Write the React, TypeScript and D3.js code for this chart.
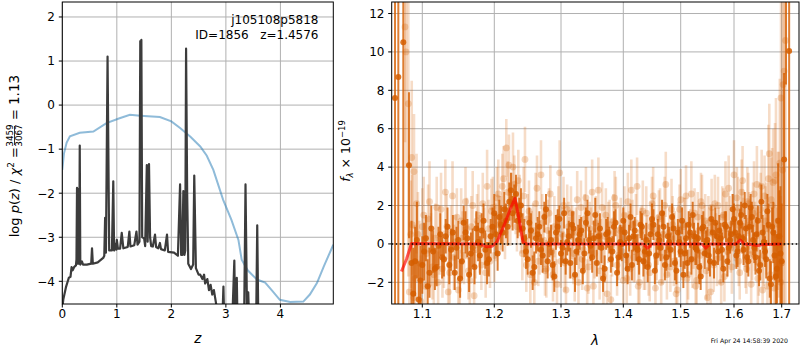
import React from 'react';
import * as d3 from 'd3';

// ---------- left panel data ----------
const Z_TICKS = [0, 1, 2, 3, 4];
const LOGP_TICKS = [-4, -3, -2, -1, 0, 1, 2];

const PRIOR_Z = [0, 0.03, 0.08, 0.14, 0.32, 0.57, 0.81, 1.05, 1.24, 1.43, 1.79, 2.0, 2.16, 2.35, 2.53, 2.65, 2.77, 2.95, 3.1, 3.23, 3.29, 3.4, 3.57, 3.72, 3.84, 3.99, 4.18, 4.42, 4.54, 4.67, 4.8, 4.97];
const PRIOR_LOG = [-1.47, -1.1, -0.85, -0.71, -0.63, -0.6, -0.41, -0.3, -0.22, -0.24, -0.27, -0.37, -0.52, -0.72, -0.94, -1.15, -1.47, -2.15, -2.6, -3.06, -3.51, -3.75, -3.96, -4.03, -4.2, -4.42, -4.47, -4.46, -4.3, -4.04, -3.65, -3.17];

const PZ_Z = [0.0, 0.02, 0.07, 0.12, 0.15, 0.17, 0.19, 0.22, 0.25, 0.26, 0.27, 0.275, 0.285, 0.295, 0.305, 0.31, 0.32, 0.33, 0.36, 0.38, 0.45, 0.53, 0.545, 0.56, 0.65, 0.75, 0.77, 0.785, 0.80, 0.83, 0.86, 0.89, 0.91, 0.935, 0.95, 0.97, 0.99, 1.0, 1.02, 1.06, 1.09, 1.12, 1.2, 1.23, 1.25, 1.32, 1.36, 1.38, 1.415, 1.43, 1.44, 1.45, 1.465, 1.5, 1.52, 1.55, 1.565, 1.59, 1.61, 1.63, 1.66, 1.70, 1.72, 1.76, 1.79, 1.81, 1.88, 1.92, 1.94, 2.05, 2.12, 2.16, 2.18, 2.2, 2.22, 2.24, 2.255, 2.27, 2.29, 2.31, 2.36, 2.40, 2.42, 2.45, 2.5, 2.53, 2.57, 2.6, 2.62, 2.66, 2.69, 2.72, 2.75, 2.78, 2.82, 2.86, 2.92, 2.955, 2.98, 3.1, 3.155, 3.175, 3.2, 3.22, 3.33, 3.36, 3.39, 3.41, 3.44, 3.55, 3.575, 3.60, 3.7, 4.97];
const PZ_LOG = [-4.6, -4.4, -4.12, -3.92, -3.9, -3.68, -3.75, -3.67, -3.64, -3.5, -1.88, -3.6, -1.9, -3.6, -2.3, -3.6, -0.92, -3.62, -3.55, -3.62, -3.62, -3.6, -3.25, -3.6, -3.57, -3.47, -3.42, -2.56, -3.35, 1.1, -3.3, -3.3, -3.3, -1.73, -3.3, -3.15, -3.28, -3.06, -3.26, -3.26, -2.9, -3.25, -3.22, -2.87, -3.21, -3.18, -2.87, -3.17, -3.1, 1.45, -1.0, 1.48, -3.0, -3.02, -3.2, -1.36, -3.1, -1.34, -3.0, -3.2, -3.21, -2.94, -3.22, -3.25, -3.13, -3.27, -3.3, -2.94, -3.33, -3.35, -3.42, -1.8, -3.4, -3.4, -1.95, -3.4, -3.3, 1.28, -2.0, -3.6, -3.72, -3.62, -1.6, -3.7, -3.85, -3.85, -3.95, -3.85, -4.05, -3.95, -4.2, -4.08, -4.3, -4.2, -4.5, -4.8, -5.5, -4.12, -5.5, -5.5, -3.53, -5.3, -3.92, -5.5, -5.5, -1.8, -5.0, -4.25, -5.5, -5.5, -2.73, -5.5, -6, -6];

// ---------- right panel data ----------
const LAM_TICKS = [1.1, 1.2, 1.3, 1.4, 1.5, 1.6, 1.7];
const FLUX_TICKS = [-2, 0, 2, 4, 6, 8, 10, 12];

// binned spectrum, first set
const DARK_LAM = [1.085, 1.09, 1.095, 1.1, 1.105, 1.11, 1.115, 1.12, 1.125, 1.13, 1.135, 1.14, 1.145, 1.15, 1.155, 1.16, 1.165, 1.17, 1.175, 1.18, 1.185, 1.19, 1.195, 1.2, 1.205, 1.21, 1.215, 1.22, 1.225, 1.23, 1.235, 1.24, 1.245, 1.25, 1.255, 1.26, 1.265, 1.27, 1.275, 1.28, 1.285, 1.29, 1.295, 1.3, 1.305, 1.31, 1.315, 1.32, 1.325, 1.33, 1.335, 1.34, 1.345, 1.35, 1.355, 1.36, 1.365, 1.37, 1.375, 1.38, 1.385, 1.39, 1.395, 1.4, 1.405, 1.41, 1.415, 1.42, 1.425, 1.43, 1.435, 1.44, 1.445, 1.45, 1.455, 1.46, 1.465, 1.47, 1.475, 1.48, 1.485, 1.49, 1.495, 1.5, 1.505, 1.51, 1.515, 1.52, 1.525, 1.53, 1.535, 1.54, 1.545, 1.55, 1.555, 1.56, 1.565, 1.57, 1.575, 1.58, 1.585, 1.59, 1.595, 1.6, 1.605, 1.61, 1.615, 1.62, 1.625, 1.63, 1.635, 1.64, 1.645, 1.65, 1.655, 1.66, 1.665, 1.67, 1.675, 1.68, 1.685, 1.69, 1.695, 1.7];
const DARK_FLUX = [-1.0, -0.9, -2.9, -1.1, 0.3, -1.5, -0.4, -1.2, 0.5, -0.8, 0.9, -0.3, -1.5, 0.2, -0.9, 0.6, -1.6, -0.2, 0.8, -0.6, 1.2, -1.0, 0.4, 1.6, -0.5, 1.0, 1.8, 0.9, 2.8, 2.1, 1.2, 2.0, 0.3, -0.8, 0.7, -1.2, 0.5, -0.3, 1.4, -0.9, 0.2, -1.7, 0.9, -0.5, 1.6, 0.1, -1.0, 0.8, -0.4, 0.5, -1.4, 1.1, 0.2, -0.7, 1.5, 0.4, -0.2, -1.3, 0.6, -0.8, 0.9, -1.5, 0.1, 1.2, -0.6, 0.3, -1.1, 0.7, -0.3, 1.0, -0.9, 0.2, -0.5, 1.3, -1.4, 0.5, -0.2, 0.9, -0.7, 0.1, 1.4, -1.0, 0.6, -0.4, -1.6, 0.3, 1.0, -0.8, 0.4, -0.3, -1.2, 0.8, -0.5, 0.2, -0.9, 0.6, 1.1, -0.4, 0.3, -1.3, 0.9, -0.2, 0.5, 1.3, -0.6, 0.4, 1.5, -0.3, 0.8, -0.9, 1.9, 0.2, -0.7, 1.2, -1.1, 0.6, -0.4, 1.7, -1.8, 0.9, -0.6, -1.3, 0.4, -0.9];
const DARK_ERR = [2.2, 1.8, 2.0, 1.5, 1.2, 1.3, 1.1, 1.0, 1.1, 0.9, 1.0, 1.1, 0.9, 1.0, 0.9, 1.1, 0.9, 1.0, 0.9, 1.0, 0.9, 1.1, 0.9, 1.0, 0.9, 1.0, 0.9, 1.0, 0.9, 1.0, 0.9, 0.9, 1.0, 0.8, 0.9, 0.8, 0.9, 0.8, 0.8, 0.9, 0.8, 0.8, 0.9, 0.7, 0.8, 0.7, 0.8, 0.9, 0.7, 0.8, 0.7, 0.8, 0.7, 0.8, 0.9, 0.7, 0.8, 0.7, 0.8, 0.7, 0.8, 0.7, 0.9, 0.7, 0.8, 0.7, 0.8, 0.7, 0.8, 0.7, 0.8, 0.9, 0.7, 0.8, 0.7, 0.8, 0.7, 0.8, 0.7, 0.8, 0.7, 0.9, 0.7, 0.8, 0.7, 0.8, 0.7, 0.8, 0.7, 0.8, 0.9, 0.7, 0.8, 0.7, 0.8, 0.7, 0.8, 0.7, 0.8, 0.7, 0.8, 0.9, 0.7, 0.8, 0.7, 0.8, 0.7, 0.8, 0.7, 0.8, 0.7, 0.8, 0.9, 0.8, 0.8, 0.9, 0.8, 0.9, 1.0, 1.0, 1.3, 1.8, 2.4, 3.0];

// binned spectrum, second set
const DARK2_LAM = [1.0875, 1.0925, 1.0975, 1.1025, 1.1075, 1.1125, 1.1175, 1.1225, 1.1275, 1.1325, 1.1375, 1.1425, 1.1475, 1.1525, 1.1575, 1.1625, 1.1675, 1.1725, 1.1775, 1.1825, 1.1875, 1.1925, 1.1975, 1.2025, 1.2075, 1.2125, 1.2175, 1.2225, 1.2275, 1.2325, 1.2375, 1.2425, 1.2475, 1.2525, 1.2575, 1.2625, 1.2675, 1.2725, 1.2775, 1.2825, 1.2875, 1.2925, 1.2975, 1.3025, 1.3075, 1.3125, 1.3175, 1.3225, 1.3275, 1.3325, 1.3375, 1.3425, 1.3475, 1.3525, 1.3575, 1.3625, 1.3675, 1.3725, 1.3775, 1.3825, 1.3875, 1.3925, 1.3975, 1.4025, 1.4075, 1.4125, 1.4175, 1.4225, 1.4275, 1.4325, 1.4375, 1.4425, 1.4475, 1.4525, 1.4575, 1.4625, 1.4675, 1.4725, 1.4775, 1.4825, 1.4875, 1.4925, 1.4975, 1.5025, 1.5075, 1.5125, 1.5175, 1.5225, 1.5275, 1.5325, 1.5375, 1.5425, 1.5475, 1.5525, 1.5575, 1.5625, 1.5675, 1.5725, 1.5775, 1.5825, 1.5875, 1.5925, 1.5975, 1.6025, 1.6075, 1.6125, 1.6175, 1.6225, 1.6275, 1.6325, 1.6375, 1.6425, 1.6475, 1.6525, 1.6575, 1.6625, 1.6675, 1.6725, 1.6775, 1.6825, 1.6875, 1.6925, 1.6975];
const DARK2_FLUX = [-2.6, 0.2, -1.9, -0.4, -2.2, 0.8, -1.3, -0.1, -0.7, 0.4, -1.1, 0.6, -0.2, -1.8, 1.1, 0.3, -0.5, -1.2, 0.1, 0.7, -0.3, -0.8, 0.9, 0.5, 1.4, 0.6, 1.2, 2.2, 1.6, 2.6, 1.5, 0.8, -0.4, 1.1, -1.5, 0.3, 0.9, -0.6, 1.8, 0.0, -1.1, 0.6, 1.3, -0.2, -0.9, 0.4, 1.0, -1.6, 0.2, 0.7, -0.5, 1.6, -0.1, 0.3, -1.0, 0.8, -1.8, 0.5, 0.2, -0.4, 1.1, -0.7, 0.0, 0.6, -1.3, 1.4, 0.4, -0.2, -0.8, 0.9, -0.4, -1.2, 0.5, 1.0, -0.6, 0.2, 1.6, -1.1, 0.4, -0.3, 0.8, -1.4, 0.1, 1.2, -0.5, -1.0, 0.6, 1.5, -0.2, 0.3, -1.7, 0.9, 0.0, -0.6, 1.3, -1.0, 0.4, 0.7, -0.3, 1.0, -0.9, 0.2, 1.8, 0.6, -0.4, 1.1, 0.3, 2.0, -0.7, 0.9, 1.4, -0.2, 0.5, -1.4, 2.2, 0.1, -0.8, 1.0, -2.1, 0.6, -1.7, 1.2, -0.5];
const DARK2_ERR = [2.4, 2.0, 1.8, 1.5, 1.4, 1.2, 1.1, 1.0, 1.1, 0.9, 1.0, 0.9, 1.1, 1.0, 0.9, 1.0, 1.1, 0.9, 1.0, 0.9, 1.0, 0.9, 1.0, 1.1, 0.9, 1.0, 0.9, 1.0, 0.9, 1.0, 0.9, 0.8, 0.9, 0.8, 0.9, 0.8, 0.8, 0.9, 0.8, 0.7, 0.8, 0.9, 0.7, 0.8, 0.7, 0.8, 0.7, 0.9, 0.8, 0.7, 0.8, 0.7, 0.8, 0.9, 0.7, 0.8, 0.7, 0.8, 0.7, 0.8, 0.7, 0.8, 0.9, 0.7, 0.8, 0.7, 0.8, 0.7, 0.8, 0.7, 0.9, 0.8, 0.7, 0.8, 0.7, 0.8, 0.7, 0.8, 0.7, 0.9, 0.8, 0.7, 0.8, 0.7, 0.8, 0.7, 0.8, 0.7, 0.9, 0.8, 0.7, 0.8, 0.7, 0.8, 0.7, 0.8, 0.7, 0.8, 0.9, 0.7, 0.8, 0.7, 0.8, 0.7, 0.8, 0.7, 0.8, 0.7, 0.8, 0.9, 0.8, 0.8, 0.9, 0.8, 0.9, 0.9, 1.0, 1.1, 1.2, 1.6, 2.2, 3.0, 3.5];

// unbinned spectrum, first set
const LIGHT_LAM = [1.082, 1.086, 1.09, 1.094, 1.098, 1.102, 1.106, 1.11, 1.114, 1.118, 1.122, 1.126, 1.13, 1.134, 1.138, 1.142, 1.146, 1.15, 1.154, 1.158, 1.162, 1.166, 1.17, 1.174, 1.178, 1.182, 1.186, 1.19, 1.194, 1.198, 1.202, 1.206, 1.21, 1.214, 1.218, 1.222, 1.226, 1.23, 1.234, 1.238, 1.242, 1.246, 1.25, 1.254, 1.258, 1.262, 1.266, 1.27, 1.274, 1.278, 1.282, 1.286, 1.29, 1.294, 1.298, 1.302, 1.306, 1.31, 1.314, 1.318, 1.322, 1.326, 1.33, 1.334, 1.338, 1.342, 1.346, 1.35, 1.354, 1.358, 1.362, 1.366, 1.37, 1.374, 1.378, 1.382, 1.386, 1.39, 1.394, 1.398, 1.402, 1.406, 1.41, 1.414, 1.418, 1.422, 1.426, 1.43, 1.434, 1.438, 1.442, 1.446, 1.45, 1.454, 1.458, 1.462, 1.466, 1.47, 1.474, 1.478, 1.482, 1.486, 1.49, 1.494, 1.498, 1.502, 1.506, 1.51, 1.514, 1.518, 1.522, 1.526, 1.53, 1.534, 1.538, 1.542, 1.546, 1.55, 1.554, 1.558, 1.562, 1.566, 1.57, 1.574, 1.578, 1.582, 1.586, 1.59, 1.594, 1.598, 1.602, 1.606, 1.61, 1.614, 1.618, 1.622, 1.626, 1.63, 1.634, 1.638, 1.642, 1.646, 1.65, 1.654, 1.658, 1.662, 1.666, 1.67, 1.674, 1.678, 1.682, 1.686, 1.69, 1.694, 1.698, 1.702];
const LIGHT_FLUX = [-2.5, 1.0, -1.8, 0.5, -3.0, 1.5, -0.5, 2.2, -1.2, 0.3, -2.0, 1.8, -0.8, 0.9, -1.5, 2.5, 0.1, -2.4, 1.2, -0.6, 0.8, -1.9, 2.0, -0.3, 1.5, -1.1, 0.4, 3.0, -0.9, 1.9, 0.6, 2.6, 1.1, 3.4, 5.0, 4.1, 2.3, 3.1, 0.9, 2.0, -0.5, 4.4, 1.3, -1.6, 0.7, 2.1, -0.9, 3.6, 0.2, -1.3, 1.6, -0.4, 0.9, -2.1, 3.7, 0.5, -1.0, 1.8, -0.2, 0.6, -1.7, 2.3, 0.1, -0.8, 1.3, -2.3, 0.8, 2.7, -0.5, 0.3, -1.4, 1.9, 0.4, -2.6, 1.0, -0.2, 2.4, -1.1, 0.7, -0.4, 1.5, -1.8, 0.3, 2.8, -0.7, 1.1, -2.2, 0.6, 1.7, -1.0, 0.2, -1.5, 2.1, 0.8, -0.6, 1.4, -2.0, 0.5, 3.1, -0.3, -1.2, 1.0, 0.3, -2.4, 1.8, -0.5, 0.9, 2.5, -1.6, 0.4, -0.8, 1.6, -1.9, 0.7, 2.2, -0.4, 1.2, -2.8, 0.6, 1.9, -1.1, 0.3, 2.0, -0.7, 1.4, -1.7, 0.8, 2.9, -0.2, 1.1, 0.5, 2.4, -0.9, 1.7, 3.3, 0.2, -1.3, 2.1, 1.0, -0.5, 2.6, 0.4, -1.8, 1.5, 3.0, -0.6, 1.2, -2.2, 4.7, 2.3, 3.2, 3.3, -1.5, 1.0, -2.0, 3.85];
const LIGHT_ERR = [3.0, 2.6, 2.8, 2.2, 2.4, 2.0, 1.9, 2.1, 1.7, 1.8, 1.6, 1.9, 1.5, 1.7, 1.6, 1.8, 1.4, 1.6, 1.7, 1.5, 1.6, 1.4, 1.8, 1.5, 1.6, 1.3, 1.5, 1.9, 1.4, 1.6, 1.5, 1.8, 1.4, 1.7, 1.5, 1.6, 1.4, 1.5, 1.3, 1.6, 1.4, 1.7, 1.3, 1.5, 1.4, 1.6, 1.3, 1.8, 1.4, 1.5, 1.3, 1.4, 1.6, 1.3, 1.7, 1.4, 1.5, 1.3, 1.6, 1.4, 1.3, 1.5, 1.4, 1.6, 1.3, 1.5, 1.4, 1.7, 1.3, 1.4, 1.5, 1.3, 1.6, 1.4, 1.3, 1.5, 1.4, 1.6, 1.3, 1.4, 1.5, 1.3, 1.4, 1.6, 1.3, 1.5, 1.4, 1.3, 1.6, 1.4, 1.3, 1.5, 1.4, 1.6, 1.3, 1.4, 1.5, 1.3, 1.7, 1.4, 1.3, 1.5, 1.4, 1.6, 1.3, 1.4, 1.5, 1.6, 1.3, 1.4, 1.5, 1.3, 1.6, 1.4, 1.5, 1.3, 1.4, 1.6, 1.3, 1.5, 1.4, 1.3, 1.5, 1.4, 1.6, 1.3, 1.4, 1.7, 1.3, 1.5, 1.4, 1.6, 1.3, 1.5, 1.8, 1.4, 1.3, 1.6, 1.5, 1.4, 1.7, 1.5, 1.6, 1.7, 1.9, 1.6, 1.8, 2.0, 2.6, 2.2, 2.8, 3.0, 3.4, 3.8, 4.5, 5.0];

// unbinned spectrum, second set
const LIGHT2_LAM = [1.084, 1.088, 1.092, 1.096, 1.1, 1.104, 1.108, 1.112, 1.116, 1.12, 1.124, 1.128, 1.132, 1.136, 1.14, 1.144, 1.148, 1.152, 1.156, 1.16, 1.164, 1.168, 1.172, 1.176, 1.18, 1.184, 1.188, 1.192, 1.196, 1.2, 1.204, 1.208, 1.212, 1.216, 1.22, 1.224, 1.228, 1.232, 1.236, 1.24, 1.244, 1.248, 1.252, 1.256, 1.26, 1.264, 1.268, 1.272, 1.276, 1.28, 1.284, 1.288, 1.292, 1.296, 1.3, 1.304, 1.308, 1.312, 1.316, 1.32, 1.324, 1.328, 1.332, 1.336, 1.34, 1.344, 1.348, 1.352, 1.356, 1.36, 1.364, 1.368, 1.372, 1.376, 1.38, 1.384, 1.388, 1.392, 1.396, 1.4, 1.404, 1.408, 1.412, 1.416, 1.42, 1.424, 1.428, 1.432, 1.436, 1.44, 1.444, 1.448, 1.452, 1.456, 1.46, 1.464, 1.468, 1.472, 1.476, 1.48, 1.484, 1.488, 1.492, 1.496, 1.5, 1.504, 1.508, 1.512, 1.516, 1.52, 1.524, 1.528, 1.532, 1.536, 1.54, 1.544, 1.548, 1.552, 1.556, 1.56, 1.564, 1.568, 1.572, 1.576, 1.58, 1.584, 1.588, 1.592, 1.596, 1.6, 1.604, 1.608, 1.612, 1.616, 1.62, 1.624, 1.628, 1.632, 1.636, 1.64, 1.644, 1.648, 1.652, 1.656, 1.66, 1.664, 1.668, 1.672, 1.676, 1.68, 1.684, 1.688, 1.692, 1.696, 1.7];
const LIGHT2_FLUX = [0.5, -2.8, 2.1, -1.0, 0.9, -2.2, 1.3, -0.3, -1.6, 1.9, 0.2, -1.3, 2.7, -2.5, 0.6, -0.7, 1.4, -1.9, 0.3, 2.2, -1.4, 0.9, -2.7, 1.2, 0.0, 2.1, -1.5, 0.8, 1.7, -0.6, 2.4, 1.0, 3.0, 0.6, 2.7, 1.4, 4.0, 1.9, 3.3, 0.8, 2.5, -1.1, 1.7, 0.4, -2.0, 2.9, -0.2, 1.1, -1.4, 0.7, 2.6, -1.6, 0.2, 1.4, -0.9, 2.0, -2.4, 0.9, 1.6, -0.5, 0.6, -2.0, 1.9, -0.3, 2.4, -1.2, 0.4, -2.2, 1.1, 2.8, 0.0, -1.7, 1.5, 0.6, -2.9, 1.2, 2.0, -0.6, 0.8, -1.9, 0.3, 2.2, -1.3, 1.0, -0.4, 3.0, -2.0, 0.7, -0.9, 1.6, -1.1, 0.9, 2.5, -2.3, 0.2, 1.3, -0.7, 2.0, -1.6, 0.6, 1.8, -0.9, -2.6, 0.8, 2.3, -0.1, 1.0, -1.8, 0.4, 2.6, 0.1, -2.2, 1.4, -0.6, 2.0, 0.7, -1.4, 1.1, -2.5, 0.5, 2.1, -0.8, 0.6, -2.0, 1.5, 2.6, -0.4, 1.0, -1.2, 3.6, 0.3, 1.9, -1.5, 2.7, 0.9, -0.7, 2.2, 1.2, -2.1, 1.6, 0.4, 3.1, -1.0, 1.8, -2.4, 2.5, 0.8, 3.4, -1.6, 2.0, -2.3, 3.6, 1.2, 4.2, -1.0];
const LIGHT2_ERR = [2.8, 2.5, 2.6, 2.2, 2.0, 2.1, 1.8, 1.9, 1.7, 1.6, 1.8, 1.5, 1.7, 1.6, 1.4, 1.7, 1.5, 1.6, 1.4, 1.8, 1.5, 1.6, 1.7, 1.4, 1.5, 1.6, 1.3, 1.5, 1.7, 1.4, 1.6, 1.5, 1.7, 1.4, 1.6, 1.5, 1.8, 1.4, 1.6, 1.3, 1.5, 1.4, 1.6, 1.3, 1.5, 1.7, 1.4, 1.5, 1.3, 1.6, 1.5, 1.4, 1.3, 1.6, 1.4, 1.5, 1.7, 1.3, 1.4, 1.6, 1.3, 1.5, 1.4, 1.3, 1.6, 1.4, 1.5, 1.3, 1.4, 1.7, 1.3, 1.5, 1.4, 1.6, 1.3, 1.4, 1.5, 1.3, 1.6, 1.4, 1.3, 1.5, 1.4, 1.3, 1.6, 1.5, 1.4, 1.3, 1.5, 1.4, 1.6, 1.3, 1.5, 1.4, 1.3, 1.6, 1.4, 1.5, 1.3, 1.4, 1.6, 1.3, 1.5, 1.4, 1.6, 1.3, 1.4, 1.5, 1.3, 1.7, 1.4, 1.5, 1.3, 1.4, 1.6, 1.3, 1.5, 1.4, 1.6, 1.3, 1.5, 1.4, 1.3, 1.6, 1.4, 1.7, 1.3, 1.5, 1.4, 1.8, 1.5, 1.6, 1.4, 1.7, 1.5, 1.6, 1.8, 1.5, 1.7, 1.6, 1.8, 2.0, 1.7, 1.9, 2.2, 2.1, 2.4, 2.8, 2.5, 3.0, 3.4, 4.0, 3.6, 4.4, 5.0];

const EDGE_DARK_LAM = [1.0621, 1.0667, 1.0736, 1.0815, 1.705, 1.709, 1.7155];
const EDGE_DARK_FLUX = [7.6, 8.7, 10.5, 4.1, 4.4, 14.0, 10.05];
const EDGE_DARK_ERR = [20, 20, 20, 3.8, 4.5, 5.7, 25];

const EDGE_LIGHT_LAM = [1.076, 1.0774, 1.0806, 1.0853, 1.0885, 1.6985, 1.703, 1.705, 1.708];
const EDGE_LIGHT_FLUX = [11.3, 10.0, 7.3, 4.5, 3.77, 7.6, 8.3, 9.0, 10.6];
const EDGE_LIGHT_ERR = [6, 6, 9, 4, 3, 20, 20, 20, 20];

const MODEL_LAM = [1.071, 1.078, 1.085, 1.18, 1.19, 1.197, 1.204, 1.215, 1.225, 1.231, 1.236, 1.243, 1.248, 1.435, 1.442, 1.45, 1.54, 1.547, 1.555, 1.605, 1.613, 1.621, 1.64, 1.65, 1.66, 1.70];
const MODEL_FLUX = [-1.44, -0.8, 0.02, 0.0, -0.15, -0.12, 0.1, 1.0, 1.9, 2.38, 1.5, 0.1, 0.0, 0.0, -0.22, 0.0, 0.0, -0.22, 0.0, 0.0, 0.2, 0.0, -0.04, -0.08, -0.03, 0.0];

// axis calibration (tick value -> pixel) for the non-uniform wavelength axis
const LAM_CAL = [1.0575, 1.1, 1.2, 1.3, 1.4, 1.5, 1.6, 1.7, 1.736];

const ORANGE = '#d55e00';
const FONT = 'DejaVu Sans';

type Ser = { lam: number[]; flux: number[]; err: number[] };

export default function App() {
  const L = { x0: 62.3, x1: 333.3, y0: 2, y1: 304 };
  const R = { x0: 391.7, x1: 799, y0: 2, y1: 304 };

  const zS = d3.scaleLinear().domain([0, 4.97]).range([L.x0, L.x1]);
  const pS = d3.scaleLinear().domain([-4.515, 2.34]).range([L.y1, L.y0]);
  const lS = d3.scaleLinear().domain(LAM_CAL).range([R.x0, 422.3, 494.3, 561, 623.3, 680.7, 734, 781.7, R.x1]);
  const fS = d3.scaleLinear().domain([-3.13, 12.6]).range([R.y1, R.y0]);

  const line = d3.line<[number, number]>();
  const priorPath = line(PRIOR_Z.map((z, i) => [zS(z), pS(PRIOR_LOG[i])]))!;
  const pzPath = line(PZ_Z.map((z, i) => [zS(z), pS(PZ_LOG[i])]))!;
  const modelPath = line(MODEL_LAM.map((l, i) => [lS(l), fS(MODEL_FLUX[i])]))!;

  const fmt = (v: number) => (v < 0 ? '\u2212' + Math.abs(v) : String(v));
  const grid = '#b0b0b0';

  const lights: Ser[] = [
    { lam: LIGHT_LAM, flux: LIGHT_FLUX, err: LIGHT_ERR },
    { lam: LIGHT2_LAM, flux: LIGHT2_FLUX, err: LIGHT2_ERR },
    { lam: EDGE_LIGHT_LAM, flux: EDGE_LIGHT_FLUX, err: EDGE_LIGHT_ERR },
  ];
  const darks: Ser[] = [
    { lam: DARK_LAM, flux: DARK_FLUX, err: DARK_ERR },
    { lam: DARK2_LAM, flux: DARK2_FLUX, err: DARK2_ERR },
    { lam: EDGE_DARK_LAM, flux: EDGE_DARK_FLUX, err: EDGE_DARK_ERR },
  ];

  return (
    <svg width={800} height={350} style={{ position: 'absolute', left: 0, top: 0 }} fontFamily={FONT}>
      <defs>
        <clipPath id="clipL"><rect x={L.x0} y={L.y0} width={L.x1 - L.x0} height={L.y1 - L.y0} /></clipPath>
        <clipPath id="clipR"><rect x={R.x0} y={R.y0} width={R.x1 - R.x0} height={R.y1 - R.y0} /></clipPath>
      </defs>
      <rect width={800} height={350} fill="#fff" />

      {/* ---------- LEFT PANEL ---------- */}
      <g>
        {Z_TICKS.map((t) => (
          <line key={'gzx' + t} x1={zS(t)} x2={zS(t)} y1={L.y0} y2={L.y1} stroke={grid} strokeWidth={1} />
        ))}
        {LOGP_TICKS.map((t) => (
          <line key={'gzy' + t} x1={L.x0} x2={L.x1} y1={pS(t)} y2={pS(t)} stroke={grid} strokeWidth={1} />
        ))}
        <g clipPath="url(#clipL)">
          <path d={priorPath} fill="none" stroke="#1f77b4" strokeOpacity={0.5} strokeWidth={2} />
          <path d={pzPath} fill="none" stroke="#3c3c3c" strokeWidth={2.2} strokeLinejoin="round" />
        </g>
        <rect x={L.x0} y={L.y0} width={L.x1 - L.x0} height={L.y1 - L.y0} fill="none" stroke="#000" strokeWidth={1} />
        {Z_TICKS.map((t) => (
          <g key={'tzx' + t}>
            <line x1={zS(t)} x2={zS(t)} y1={L.y1} y2={L.y1 + 3.5} stroke="#000" />
            <text x={zS(t)} y={318} fontSize={12} textAnchor="middle">{fmt(t)}</text>
          </g>
        ))}
        {LOGP_TICKS.map((t) => (
          <g key={'tzy' + t}>
            <line x1={L.x0 - 3.5} x2={L.x0} y1={pS(t)} y2={pS(t)} stroke="#000" />
            <text x={55} y={pS(t) + 4.3} fontSize={12} textAnchor="end">{fmt(t)}</text>
          </g>
        ))}
        <text x={318.5} y={24} fontSize={12} textAnchor="end">j105108p5818</text>
        <text x={318.5} y={39} fontSize={12} textAnchor="end" style={{ whiteSpace: 'pre' }}>{'ID=1856   z=1.4576'}</text>
        <text x={197.8} y={343} fontSize={13.5} textAnchor="middle" fontStyle="italic">z</text>
        <g transform="translate(19,153) rotate(-90)">
          <text x={6} y={0} fontSize={13} textAnchor="end" style={{ whiteSpace: 'pre' }}>
            <tspan>{'log '}</tspan>
            <tspan fontStyle="italic">p</tspan>
            <tspan>(</tspan>
            <tspan fontStyle="italic">z</tspan>
            <tspan>{') / '}</tspan>
            <tspan fontStyle="italic">χ</tspan>
            <tspan fontSize={9} dy={-5}>2</tspan>
            <tspan dy={5}>{' ='}</tspan>
          </text>
          <text x={17.5} y={-5.8} fontSize={8.8} textAnchor="middle">3459</text>
          <line x1={8} x2={27} y1={-4.5} y2={-4.5} stroke="#000" strokeWidth={0.8} />
          <text x={17.5} y={2.8} fontSize={8.8} textAnchor="middle">3067</text>
          <text x={33} y={0} fontSize={13} textAnchor="start">=</text>
          <text x={48} y={0} fontSize={13.5} textAnchor="start">1.13</text>
        </g>
      </g>

      {/* ---------- RIGHT PANEL ---------- */}
      <g>
        {LAM_TICKS.map((t) => (
          <line key={'glx' + t} x1={lS(t)} x2={lS(t)} y1={R.y0} y2={R.y1} stroke={grid} strokeWidth={1} />
        ))}
        {FLUX_TICKS.map((t) => (
          <line key={'gly' + t} x1={R.x0} x2={R.x1} y1={fS(t)} y2={fS(t)} stroke={grid} strokeWidth={1} />
        ))}
        <g clipPath="url(#clipR)">
          {lights.map((s, k) => (
            <g key={'ls' + k}>
              {s.lam.map((l, i) => (
                <line key={'le' + i} x1={lS(l)} x2={lS(l)} y1={fS(s.flux[i] - s.err[i])} y2={fS(s.flux[i] + s.err[i])} stroke={ORANGE} strokeOpacity={0.22} strokeWidth={2.6} />
              ))}
              {s.lam.map((l, i) => (
                <circle key={'lp' + i} cx={lS(l)} cy={fS(s.flux[i])} r={3.4} fill={ORANGE} fillOpacity={0.25} />
              ))}
            </g>
          ))}
          {darks.map((s, k) => (
            <g key={'ds' + k}>
              {s.lam.map((l, i) => (
                <line key={'de' + i} x1={lS(l)} x2={lS(l)} y1={fS(s.flux[i] - s.err[i])} y2={fS(s.flux[i] + s.err[i])} stroke={ORANGE} strokeOpacity={0.8} strokeWidth={2} />
              ))}
            </g>
          ))}
          {darks.map((s, k) => (
            <g key={'dps' + k}>
              {s.lam.map((l, i) => (
                <circle key={'dp' + i} cx={lS(l)} cy={fS(s.flux[i])} r={3} fill={ORANGE} fillOpacity={0.85} />
              ))}
            </g>
          ))}
          <path d={modelPath} fill="none" stroke="#ff0000" strokeOpacity={0.65} strokeWidth={3} strokeLinejoin="round" />
          <line x1={R.x0} x2={R.x1} y1={fS(0)} y2={fS(0)} stroke="#000" strokeWidth={1.5} strokeDasharray="1.5,2.5" />
        </g>
        <rect x={R.x0} y={R.y0} width={R.x1 - R.x0} height={R.y1 - R.y0} fill="none" stroke="#000" strokeWidth={1} />
        {LAM_TICKS.map((t) => (
          <g key={'tlx' + t}>
            <line x1={lS(t)} x2={lS(t)} y1={R.y1} y2={R.y1 + 3.5} stroke="#000" />
            <text x={lS(t)} y={318} fontSize={12} textAnchor="middle">{t.toFixed(1)}</text>
          </g>
        ))}
        {FLUX_TICKS.map((t) => (
          <g key={'tly' + t}>
            <line x1={R.x0 - 3.5} x2={R.x0} y1={fS(t)} y2={fS(t)} stroke="#000" />
            <text x={384.5} y={fS(t) + 4.3} fontSize={12} textAnchor="end">{fmt(t)}</text>
          </g>
        ))}
        <text x={595} y={345} fontSize={13.5} textAnchor="middle" fontStyle="italic">λ</text>
        <g transform="translate(350,151) rotate(-90)">
          <text x={0} y={0} fontSize={12.5} textAnchor="middle">
            <tspan fontStyle="italic">f</tspan>
            <tspan fontSize={8.5} dy={3} fontStyle="italic">λ</tspan>
            <tspan dy={-3}>{'\u00a0× 10'}</tspan>
            <tspan fontSize={8.5} dy={-5}>{'\u221219'}</tspan>
          </text>
        </g>
        <text x={788} y={343} fontSize={6.2} textAnchor="end">Fri Apr 24 14:58:39 2020</text>
      </g>
    </svg>
  );
}
